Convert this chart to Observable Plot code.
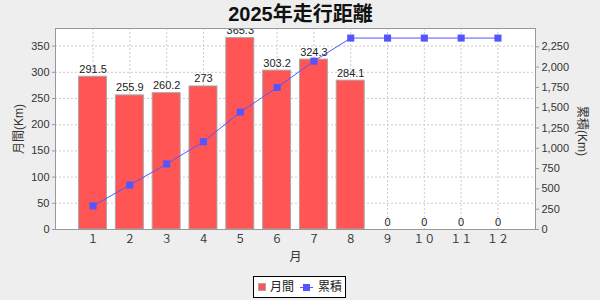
<!DOCTYPE html>
<html>
<head>
<meta charset="utf-8">
<script src="https://cdn.jsdelivr.net/npm/d3@7"></script>
<script src="https://cdn.jsdelivr.net/npm/@observablehq/plot@0.6"></script>
<style>
  html, body { margin: 0; padding: 0; background: #EEEEEE; }
  #chart svg { display: block; }
</style>
</head>
<body>
<div id="chart"></div>
<script>
const title = "2025年走行距離";
const months = ["１","２","３","４","５","６","７","８","９","１０","１１","１２"];
const monthly = [291.5, 255.9, 260.2, 273, 365.3, 303.2, 324.3, 284.1, 0, 0, 0, 0];
const cumulative = [291.5, 547.4, 807.6, 1080.6, 1445.9, 1749.1, 2073.4, 2357.5, 2357.5, 2357.5, 2357.5, 2357.5];
const leftTicks = [0, 50, 100, 150, 200, 250, 300, 350];
const rightTicks = [0, 250, 500, 750, 1000, 1250, 1500, 1750, 2000, 2250];
const leftMax = 383.6;
const rightMax = 2475.4;
const seriesNames = ["月間", "累積"];
const xLabel = "月";
const leftLabel = "月間(Km)";
const rightLabel = "累積(Km)";

const k = rightMax / leftMax;
const data = months.map((m, i) => ({month: m, monthly: monthly[i], cum: cumulative[i]}));
const font = "'Liberation Sans', Arial, 'Noto Sans CJK JP', sans-serif";
const red = "#FF5555", blue = "#5555FF";

const chart = Plot.plot({
  width: 600,
  height: 300,
  marginTop: 28,
  marginBottom: 71,
  marginLeft: 55,
  marginRight: 65,
  style: {background: "#EEEEEE", fontFamily: font, fontSize: "11px", color: "#333"},
  x: {domain: months, paddingInner: 0.24, paddingOuter: 0.64, round: false, axis: null},
  y: {domain: [0, leftMax], axis: null},
  marks: [
    Plot.frame({fill: "white", stroke: null}),
    Plot.gridY(leftTicks, {stroke: "#cccccc", strokeOpacity: 1, strokeDasharray: "2,2"}),
    Plot.gridX(months, {stroke: "#cccccc", strokeOpacity: 1, strokeDasharray: "2,2"}),
    Plot.barY(data, {x: "month", y: "monthly", fill: red, stroke: "#A8A8A8", strokeWidth: 1}),
    Plot.text(data, {x: "month", y: "monthly", text: d => String(d.monthly), lineAnchor: "bottom", dy: -4, fontSize: 11, fill: "#222", clip: true}),
    Plot.line(data, {x: "month", y: d => d.cum / k, stroke: blue, strokeWidth: 1}),
    Plot.dot(data, {x: "month", y: d => d.cum / k, symbol: "square", r: 4, fill: blue, stroke: null}),
    Plot.frame({stroke: "#999", fill: null}),
    Plot.axisY(leftTicks, {anchor: "left", tickSize: 3, tickPadding: 3, stroke: "#999", fill: "#333", fontSize: 11, label: null}),
    Plot.axisY(rightTicks.map(t => t / k), {anchor: "right", tickSize: 3, tickPadding: 3, stroke: "#999", fill: "#333", fontSize: 11, label: null,
      tickFormat: d => d3.format(",")(Math.round(d * k))}),
    Plot.axisX({tickSize: 0, tickPadding: 6, fill: "#333", fontSize: 11, label: null}),
    Plot.text([title], {frameAnchor: "top", textAnchor: "middle", lineAnchor: "middle", dx: 5, dy: -14, fontSize: 20, fontWeight: "bold", fill: "#111"}),
    Plot.text([xLabel], {frameAnchor: "bottom", textAnchor: "middle", lineAnchor: "middle", dy: 28, fontSize: 12, fill: "#333"}),
    Plot.text([leftLabel], {frameAnchor: "left", textAnchor: "middle", lineAnchor: "middle", dx: -36, rotate: -90, fontSize: 12, fill: "#333"}),
    Plot.text([rightLabel], {frameAnchor: "right", textAnchor: "middle", lineAnchor: "middle", dx: 46, dy: 2, rotate: 90, fontSize: 12, fill: "#333"})
  ]
});

// Legend
const svg = d3.select(chart);
const lg = svg.append("g").attr("font-family", font).attr("font-size", 12).attr("text-anchor", "start");
lg.append("rect").attr("x", 253.5).attr("y", 276.5).attr("width", 92).attr("height", 21)
  .attr("fill", "white").attr("stroke", "#000");
lg.append("rect").attr("x", 258.5).attr("y", 283.5).attr("width", 7).attr("height", 7)
  .attr("fill", red).attr("stroke", "#A8A8A8");
lg.append("text").attr("x", 270).attr("y", 287).attr("dy", "0.35em").attr("fill", "#222").text(seriesNames[0]);
lg.append("line").attr("x1", 300).attr("x2", 313).attr("y1", 287.5).attr("y2", 287.5).attr("stroke", blue);
lg.append("rect").attr("x", 303).attr("y", 284).attr("width", 7).attr("height", 7).attr("fill", blue);
lg.append("text").attr("x", 318).attr("y", 287).attr("dy", "0.35em").attr("fill", "#222").text(seriesNames[1]);

document.getElementById("chart").appendChild(chart);
</script>
</body>
</html>
